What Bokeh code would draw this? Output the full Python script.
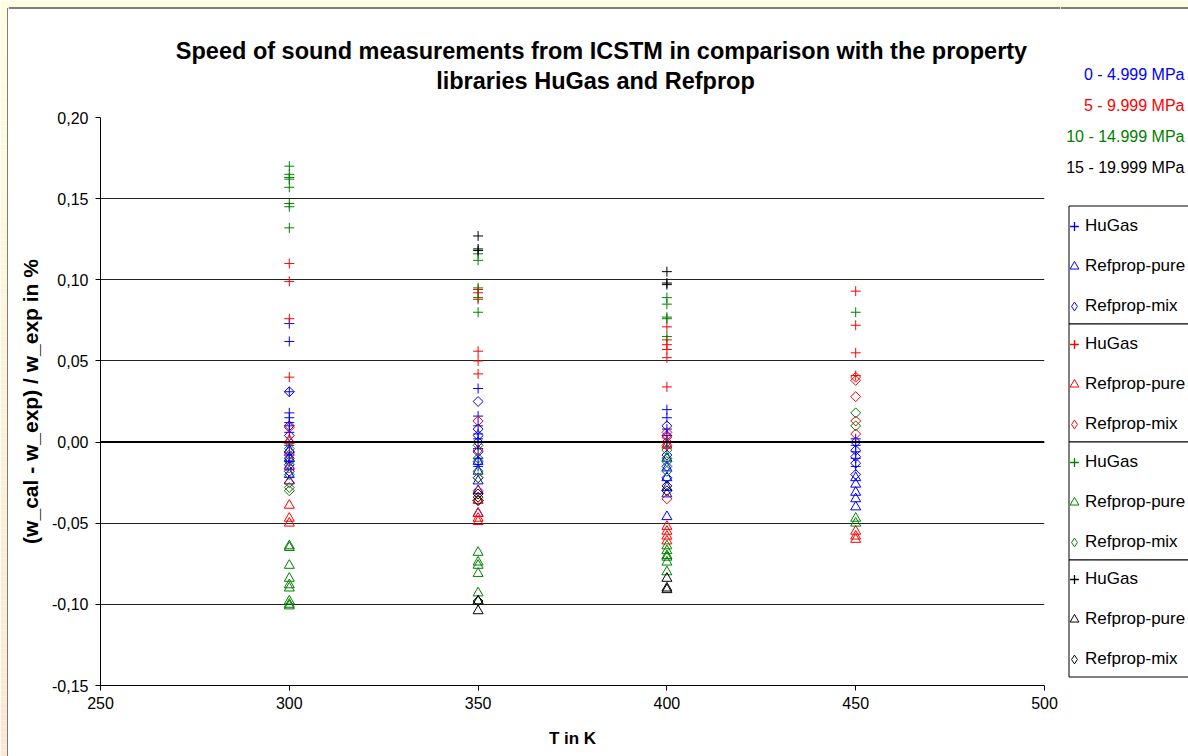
import math
from bokeh.plotting import figure
from bokeh.models import (Range1d, FixedTicker, CustomJSTickFormatter, Span, Label,
                          Legend, LegendItem, Row, Column)
from bokeh.embed import file_html
from bokeh.resources import INLINE

# ---------------- data ----------------
groups = ["0 - 4.999 MPa", "5 - 9.999 MPa", "10 - 14.999 MPa", "15 - 19.999 MPa"]
group_colors = ["#0000FF", "#FF0000", "#008000", "#000000"]
methods = ["HuGas", "Refprop-pure", "Refprop-mix"]

# 0 - 4.999 MPa (blue)
blue_hugas_T = [300]*11 + [350]*8 + [400]*6 + [450]*5
blue_hugas_v = [0.073, 0.062, 0.031, 0.018, 0.015, 0.012, 0.010, 0.006, -0.002, -0.008, -0.012,
                0.033, 0.016, 0.010, 0.005, 0.002, -0.004, -0.010, -0.015,
                0.020, 0.015, 0.008, 0.004, 0.000, -0.003,
                0.002, -0.002, -0.006, -0.010, -0.015]
blue_pure_T = [300]*5 + [350]*5 + [400]*6 + [450]*5
blue_pure_v = [-0.005, -0.010, -0.015, -0.020, -0.024,
               -0.012, -0.018, -0.024, -0.030, -0.044,
               -0.010, -0.016, -0.022, -0.028, -0.032, -0.046,
               -0.022, -0.026, -0.031, -0.035, -0.040]
blue_mix_T = [300]*7 + [350]*6 + [400]*5 + [450]*5
blue_mix_v = [0.031, 0.010, 0.004, -0.006, -0.010, -0.014, -0.018,
              0.025, 0.008, 0.004, 0.000, -0.006, -0.012,
              0.010, 0.004, -0.008, -0.015, -0.022,
              0.000, -0.005, -0.009, -0.013, -0.020]

# 5 - 9.999 MPa (red)
red_hugas_T = [300]*4 + [350]*6 + [400]*6 + [450]*4
red_hugas_v = [0.110, 0.099, 0.076, 0.040,
               0.094, 0.092, 0.088, 0.056, 0.050, 0.042,
               0.071, 0.063, 0.060, 0.057, 0.052, 0.034,
               0.093, 0.072, 0.055, 0.041]
red_pure_T = [300]*4 + [350]*4 + [400]*5 + [450]*3
red_pure_v = [0.001, -0.039, -0.047, -0.050,
              -0.036, -0.044, -0.047, -0.049,
              -0.002, -0.052, -0.055, -0.058, -0.061,
              -0.055, -0.058, -0.060]
red_mix_T = [300]*5 + [350]*5 + [400]*5 + [450]*5
red_mix_v = [0.009, 0.000, -0.008, -0.016, -0.025,
             0.013, -0.005, -0.022, -0.030, -0.036,
             0.006, 0.003, 0.000, -0.002, -0.035,
             0.040, 0.038, 0.028, 0.013, 0.005]

# 10 - 14.999 MPa (green)
green_hugas_T = [300]*8 + [350]*5 + [400]*5 + [450]*1
green_hugas_v = [0.170, 0.165, 0.163, 0.162, 0.157, 0.147, 0.145, 0.132,
                 0.116, 0.112, 0.095, 0.089, 0.080,
                 0.089, 0.085, 0.077, 0.076, 0.065,
                 0.080]
green_pure_T = [300]*9 + [350]*6 + [400]*6 + [450]*2
green_pure_v = [-0.064, -0.065, -0.076, -0.084, -0.088, -0.090, -0.098, -0.100, -0.101,
                -0.068, -0.074, -0.076, -0.081, -0.093, -0.098,
                -0.064, -0.067, -0.070, -0.071, -0.074, -0.080,
                -0.047, -0.050]
green_mix_T = [300]*5 + [350]*4 + [400]*4 + [450]*2
green_mix_v = [-0.004, -0.012, -0.020, -0.028, -0.030,
               -0.002, -0.010, -0.018, -0.022,
               -0.005, -0.010, -0.012, -0.018,
               0.018, 0.010]

# 15 - 19.999 MPa (black)
black_hugas_T = [350]*3 + [400]*3
black_hugas_v = [0.127, 0.119, 0.118, 0.105, 0.098, 0.097]
black_pure_T = [350]*2 + [400]*3
black_pure_v = [-0.098, -0.104, -0.084, -0.090, -0.091]
black_mix_T = [350]*4 + [400]*2
black_mix_v = [-0.032, -0.034, -0.036, -0.098, -0.027, -0.030]

x_ticks = [250, 300, 350, 400, 450, 500]
y_ticks = [-0.15, -0.10, -0.05, 0.0, 0.05, 0.10, 0.15, 0.20]

series = [
    [(blue_hugas_T, blue_hugas_v), (blue_pure_T, blue_pure_v), (blue_mix_T, blue_mix_v)],
    [(red_hugas_T, red_hugas_v), (red_pure_T, red_pure_v), (red_mix_T, red_mix_v)],
    [(green_hugas_T, green_hugas_v), (green_pure_T, green_pure_v), (green_mix_T, green_mix_v)],
    [(black_hugas_T, black_hugas_v), (black_pure_T, black_pure_v), (black_mix_T, black_mix_v)],
]

# ---------------- style / layout constants ----------------
FONT = "Liberation Sans"
W, H = 1188, 756
TOP_H = 100          # height of the title strip
STRIP_W = 8          # left decorative strip
RIGHT_X = 1060       # where the right (legend) panel starts
YEL_TOP = (255, 253, 224)
YEL_BOT = (251, 231, 211)


def mix(c0, c1, t):
    return "#%02x%02x%02x" % tuple(int(round(a + (b - a) * t)) for a, b in zip(c0, c1))


def deco_fig(w, h, xr, yr):
    f = figure(width=w, height=h, x_range=Range1d(*xr), y_range=Range1d(*yr),
               output_backend="svg", toolbar_location=None, min_border=0,
               x_axis_type=None, y_axis_type=None)
    f.outline_line_color = None
    f.background_fill_color = "white"
    f.border_fill_color = "white"
    f.grid.visible = False
    return f


# ---------- left decorative strip (full height) ----------
strip = deco_fig(STRIP_W, H, (0, STRIP_W), (H, 0))
ys = list(range(0, H, 6))
strip.quad(left=[0] * len(ys), right=[7] * len(ys), top=ys, bottom=[y + 6 for y in ys],
           fill_color=[mix(YEL_TOP, YEL_BOT, (y + 3) / H) for y in ys], line_color=None)
strip.quad(left=[0], right=[STRIP_W], top=[0], bottom=[7], fill_color=mix(YEL_TOP, YEL_BOT, 0.0),
           line_color=None)
strip.line([7.5, 7.5], [7.5, H], line_color="black", line_width=1)
strip.line([7.5, STRIP_W], [7.5, 7.5], line_color="black", line_width=1)

# ---------- title strip ----------
top = deco_fig(RIGHT_X - STRIP_W, TOP_H, (STRIP_W, RIGHT_X), (TOP_H, 0))
top.quad(left=[STRIP_W], right=[RIGHT_X], top=[0], bottom=[7],
         fill_color=mix(YEL_TOP, YEL_BOT, 0.0), line_color=None)
top.line([STRIP_W, RIGHT_X], [7.5, 7.5], line_color="black", line_width=1)
title_lines = ["Speed of sound measurements from ICSTM in comparison with the property",
               "libraries HuGas and Refprop"]
title_cx = [601, 595]
for i, t in enumerate(title_lines):
    top.add_layout(Label(x=title_cx[i], y=50 + 30 * i, text=t, text_align="center",
                         text_baseline="middle", text_font=FONT, text_font_style="bold",
                         text_font_size="23.5px", text_color="black"))

# ---------- main plot ----------
FL, FB = 100, 685
p = figure(width=RIGHT_X - STRIP_W, height=H - TOP_H,
           x_range=Range1d(250, 500), y_range=Range1d(-0.15, 0.20),
           output_backend="svg", toolbar_location=None,
           min_border_left=FL - STRIP_W, min_border_right=RIGHT_X - 1044,
           min_border_top=117 - TOP_H, min_border_bottom=H - FB)
p.border_fill_color = "white"
p.background_fill_color = "white"
p.outline_line_color = None

p.xaxis.ticker = FixedTicker(ticks=x_ticks)
p.yaxis.ticker = FixedTicker(ticks=y_ticks)
p.yaxis.formatter = CustomJSTickFormatter(
    code="var s = tick.toFixed(2).replace('.', ','); return (s == '-0,00') ? '0,00' : s;")
for ax in (p.xaxis[0], p.yaxis[0]):
    ax.axis_line_color = "black"
    ax.major_tick_line_color = "black"
    ax.minor_tick_line_color = None
    ax.major_tick_out = 5
    ax.major_tick_in = 0
    ax.major_label_text_font = FONT
    ax.major_label_text_font_size = "16px"
    ax.major_label_text_color = "black"
    ax.axis_label_text_font = FONT
    ax.axis_label_text_font_style = "bold"
    ax.axis_label_text_color = "black"
p.xaxis.axis_label_text_font_size = "17px"
p.yaxis.axis_label_text_font_size = "21px"
p.yaxis.major_label_standoff = 7
p.xaxis.major_label_standoff = 6
p.xaxis.axis_label = "T in K"
p.yaxis.axis_label = "(w_cal - w_exp) / w_exp in %"
p.xaxis.axis_label_standoff = 17
p.yaxis.axis_label_standoff = 7

p.xgrid.grid_line_color = None
p.ygrid.grid_line_color = "#222222"
p.ygrid.grid_line_width = 1
p.add_layout(Span(location=0, dimension="width", line_color="black", line_width=2))

for ci, sers in enumerate(series):
    color = group_colors[ci]
    (ht, hv), (pt, pv), (mt, mv) = sers
    p.scatter(ht, hv, marker="cross", size=10, line_color=color, line_width=1)
    p.scatter(pt, pv, marker="triangle", size=10, line_color=color, fill_color=None, line_width=1)
    p.scatter(mt, mv, marker="square", angle=math.pi / 4, size=7, line_color=color,
              fill_color=None, line_width=1)

# ---------- right panel: pressure labels + legends ----------
right = deco_fig(W - RIGHT_X, H, (RIGHT_X, W), (H, 0))
right.quad(left=[RIGHT_X], right=[W], top=[0], bottom=[7], fill_color=mix(YEL_TOP, YEL_BOT, 0.0),
           line_color=None)
right.line([RIGHT_X, W], [7.5, 7.5], line_color="black", line_width=1)

for i, (g, c) in enumerate(zip(groups, group_colors)):
    right.add_layout(Label(x=1184, y=74 + 31 * i, text=g, text_align="right",
                           text_baseline="middle", text_color=c, text_font=FONT,
                           text_font_size="16px"))

box_edges = [205.5, 323.5, 441.5, 559.5, 676.5]
right.quad(left=[1068.5] * 4, right=[W + 20] * 4, top=box_edges[:-1], bottom=box_edges[1:],
           fill_color="white", line_color="black", line_width=1)

# legend sample glyphs (kept outside the visible range; only their legend swatch shows)
OFF = [-1000.0]
for gi, color in enumerate(group_colors):
    r1 = right.scatter(OFF, OFF, marker="cross", size=10, line_color=color, line_width=1.3)
    r2 = right.scatter(OFF, OFF, marker="triangle", size=10, line_color=color,
                       fill_color=None, line_width=1)
    r3 = right.scatter(OFF, OFF, marker="diamond", size=10, line_color=color,
                       fill_color=None, line_width=1)
    items = [LegendItem(label=m, renderers=[r]) for m, r in zip(methods, (r1, r2, r3))]
    bot = box_edges[gi + 1] - 0.5
    leg = Legend(items=items, location=(3, H - bot + 3),
                 border_line_color=None, background_fill_alpha=0,
                 label_text_font=FONT, label_text_font_size="17px", label_text_color="black",
                 glyph_width=22, glyph_height=28, label_height=28, spacing=12,
                 padding=5, margin=0, label_standoff=0)
    right.add_layout(leg)

layout = Row(children=[strip,
                       Column(children=[top, Row(children=[p], spacing=0)], spacing=0),
                       right], spacing=0)

open("out.html", "w").write(file_html(layout, INLINE))
